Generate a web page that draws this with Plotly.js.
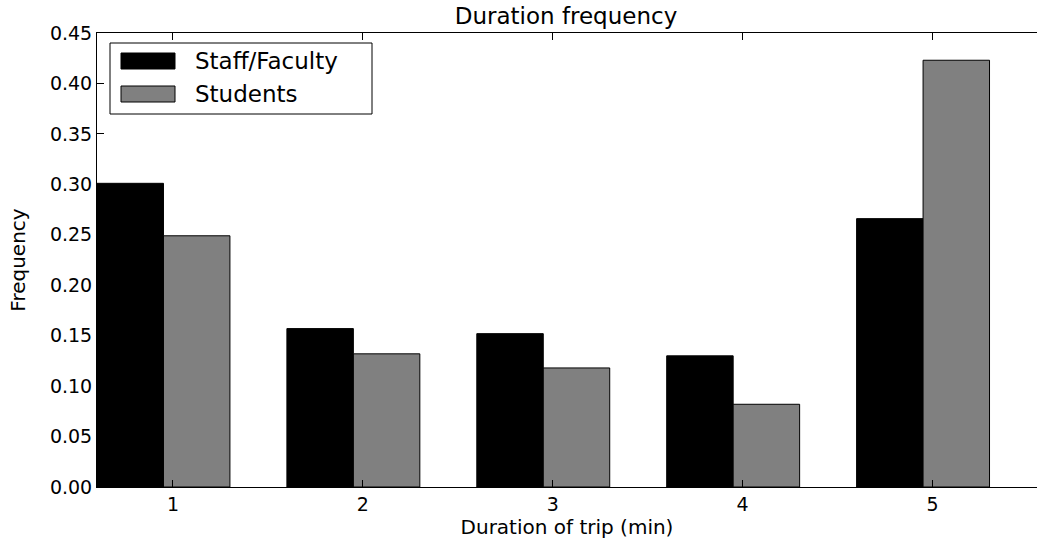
<!DOCTYPE html>
<html>
<head>
<meta charset="utf-8">
<script src="https://cdn.plot.ly/plotly-3.0.1.min.js"></script>
<style>html,body{margin:0;padding:0;background:#fff;}#chart{width:1037px;height:540px;}</style>
</head>
<body>
<div id="chart"></div>
<script>
const categories = [1, 2, 3, 4, 5];
const seriesNames = ['Staff/Faculty', 'Students'];
const staffFaculty = [0.301, 0.157, 0.152, 0.130, 0.266];
const students = [0.249, 0.132, 0.118, 0.082, 0.423];
const seriesColors = ['#000000', '#808080'];
const yTicks = [0, 0.05, 0.10, 0.15, 0.20, 0.25, 0.30, 0.35, 0.40, 0.45];

const font = 'DejaVu Sans, sans-serif';
const W = 1037, H = 540, ML = 97, MT = 33, MB = 53, MR = 0;
const PW = W - ML - MR, PH = H - MT - MB;
const px2x = p => (p - ML) / PW;
const px2y = p => (H - MB - p) / PH;

const traces = [staffFaculty, students].map((vals, i) => ({
  type: 'bar',
  name: seriesNames[i],
  x: categories,
  y: vals,
  width: 0.35,
  offset: i === 0 ? -0.4 : -0.05,
  marker: {color: seriesColors[i], line: {color: '#000', width: 1}},
  showlegend: false,
  hoverinfo: 'x+y'
}));

// custom legend (wide swatches as in the reference)
const shapes = [
  {type: 'rect', xref: 'paper', yref: 'paper', x0: px2x(110), x1: px2x(372), y0: px2y(114), y1: px2y(43),
   line: {color: '#000', width: 1}, fillcolor: '#fff', layer: 'above'}
];
const annotations = [];
const swatchTops = [53, 86];
seriesNames.forEach((n, i) => {
  const t = swatchTops[i];
  shapes.push({type: 'rect', xref: 'paper', yref: 'paper', x0: px2x(121), x1: px2x(175), y0: px2y(t + 16), y1: px2y(t),
    line: {color: '#000', width: 1}, fillcolor: seriesColors[i], layer: 'above'});
  annotations.push({xref: 'paper', yref: 'paper', x: px2x(193), y: px2y(t + 8), xanchor: 'left', yanchor: 'middle',
    text: n, showarrow: false, font: {family: font, size: 23, color: '#000'}});
});

const layout = {
  width: W, height: H,
  margin: {l: ML, r: MR, t: MT, b: MB, pad: 0},
  paper_bgcolor: '#fff', plot_bgcolor: '#fff',
  barmode: 'overlay',
  font: {family: font, color: '#000'},
  title: {text: 'Duration frequency', font: {family: font, size: 23, color: '#000'}, x: 566 / W, xanchor: 'center', y: 1 - 16 / H, yanchor: 'middle'},
  xaxis: {
    range: [0.6, 0.6 + PW / 189.9],
    tickvals: categories, ticktext: categories.map(String),
    ticks: 'inside', ticklen: 7, tickcolor: '#000', tickwidth: 1,
    showline: true, linecolor: '#000', linewidth: 1, mirror: 'ticks',
    showgrid: false, zeroline: false,
    tickfont: {family: font, size: 19, color: '#000'},
    title: {text: 'Duration of trip (min)', font: {family: font, size: 20, color: '#000'}, standoff: 4}
  },
  yaxis: {
    range: [0, 0.45],
    tickvals: yTicks, tickformat: '.2f',
    ticks: 'inside', ticklen: 7, tickcolor: '#000', tickwidth: 1,
    showline: true, linecolor: '#000', linewidth: 1, mirror: false,
    showgrid: false, zeroline: false,
    tickfont: {family: font, size: 19, color: '#000'},
    title: {text: 'Frequency', font: {family: font, size: 20, color: '#000'}, standoff: 18}
  },
  shapes: shapes,
  annotations: annotations,
  showlegend: false
};

Plotly.newPlot('chart', traces, layout, {displayModeBar: false, staticPlot: true});
</script>
</body>
</html>
